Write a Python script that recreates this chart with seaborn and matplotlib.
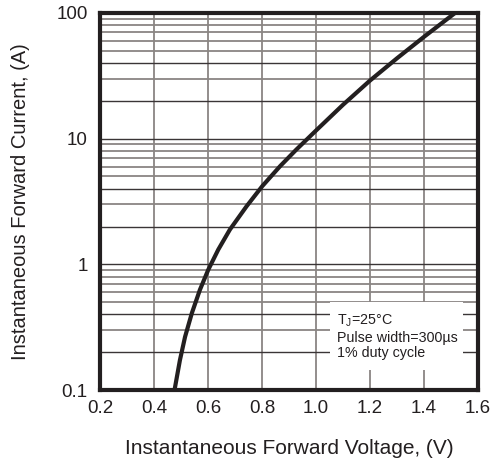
import numpy as np
import pandas as pd
import matplotlib.pyplot as plt
from matplotlib.patches import Rectangle
import seaborn as sns

# Forward voltage (V) vs forward current (A)
voltage = [0.476, 0.496, 0.515, 0.540, 0.570, 0.601, 0.638, 0.681, 0.743,
           0.801, 0.867, 0.928, 1.000, 1.100, 1.200, 1.300, 1.400, 1.515]
current = [0.10, 0.173, 0.265, 0.408, 0.627, 0.906, 1.31, 1.89, 2.90,
           4.19, 6.04, 8.22, 11.6, 18.6, 29.0, 43.6, 64.6, 100.0]

x_ticks = [0.2, 0.4, 0.6, 0.8, 1.0, 1.2, 1.4, 1.6]
y_ticks = [0.1, 1, 10, 100]
y_tick_labels = ["0.1", "1", "10", "100"]

df = pd.DataFrame({"voltage": voltage, "current": current})

sns.set_style("white")
plt.rcParams["font.family"] = ["Liberation Sans", "DejaVu Sans"]
ink = "#231f20"

fig = plt.figure(figsize=(4.91, 4.62), dpi=100)
ax = fig.add_axes([0.2037, 0.1558, 0.9735 - 0.2037, 0.9719 - 0.1558])
ax.set_yscale("log")
ax.set_xlim(0.2, 1.6)
ax.set_ylim(0.1, 100)

# grid: vertical at the ticks, horizontal at 1..9 per decade
for v in x_ticks[1:-1]:
    ax.axvline(v, color="#8a8583", lw=1.3, zorder=1)
for dec in [0.1, 1, 10]:
    for m in range(1, 10):
        dark = m in (1, 2, 4)
        ax.axhline(dec * m, color="#3a3536" if dark else "#8a8583",
                   lw=1.0 if dark else 1.3, zorder=1)

sns.lineplot(data=df, x="voltage", y="current", color=ink, lw=3,
             ax=ax, zorder=3)

# white note box in the lower right
ax.add_patch(Rectangle((0.608, 0.053), 0.352, 0.18, transform=ax.transAxes,
                       facecolor="white", edgecolor="none", zorder=2))
ax.text(0.628, 0.205, "T$_\\mathregular{J}$=25°C\nPulse width=300µs\n1% duty cycle",
        transform=ax.transAxes, fontsize=10.3, color=ink, va="top", ha="left",
        zorder=4, linespacing=1.14)

ax.set_xticks(x_ticks)
ax.set_xticklabels([f"{t:.1f}" for t in x_ticks])
ax.set_yticks(y_ticks)
ax.set_yticklabels(y_tick_labels)
ax.minorticks_off()
ax.tick_params(length=0, labelsize=13.5, colors=ink)
ax.tick_params(axis="x", pad=7)
ax.tick_params(axis="y", pad=9)

ax.set_xlabel("Instantaneous Forward Voltage, (V)", fontsize=15, color=ink,
              labelpad=16)
ax.set_ylabel("Instantaneous Forward Current, (A)", fontsize=14.5, color=ink,
              labelpad=19)

for s in ax.spines.values():
    s.set_visible(True)
    s.set_color(ink)
    s.set_linewidth(3)
    s.set_zorder(5)

fig.savefig("out.png", dpi=100)
